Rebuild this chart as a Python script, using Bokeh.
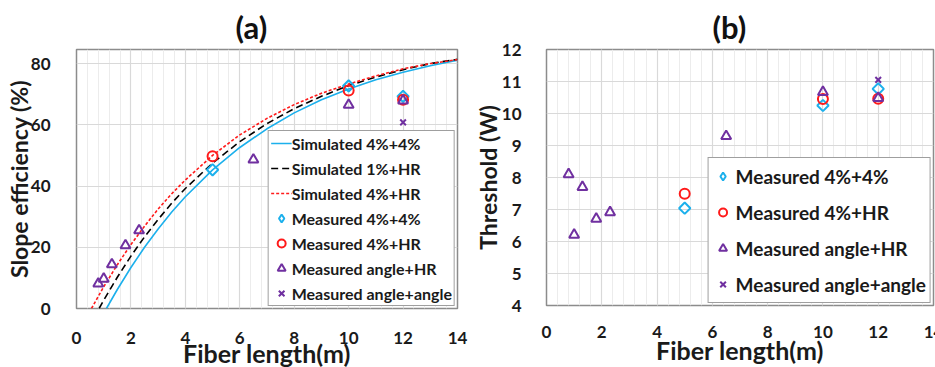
import numpy as np
from bokeh.plotting import figure
from bokeh.models import SingleIntervalTicker, Legend, LegendItem, Range1d
from bokeh.layouts import row
from bokeh.embed import file_html
from bokeh.resources import INLINE

FONT = "Lato"
CYAN = "#1CB0EC"
RED = "#FF1A1A"
PURPLE = "#7030A0"
TXT = "#1a1a1a"

# ---------------- Panel (a): slope efficiency ----------------
sim44_x = [1.10, 1.5, 2, 2.5, 3, 3.5, 4, 5, 6, 7, 8, 9, 10, 11, 12, 13, 14]
sim44_y = [0, 6.2, 13.4, 20.0, 26.0, 31.5, 36.5, 45.3, 52.6, 58.7, 63.9, 68.2, 71.7, 74.7, 77.2, 79.3, 81.1]
sim1hr_x = [0.83, 1, 1.5, 2, 2.5, 3, 3.5, 4, 5, 6, 7, 8, 9, 10, 11, 12, 13, 14]
sim1hr_y = [0, 2.7, 10.2, 17.1, 23.4, 29.1, 34.4, 39.2, 47.5, 54.5, 60.4, 65.3, 69.3, 72.8, 75.6, 78.0, 80.0, 81.4]
sim4hr_x = [0.55, 1, 1.5, 2, 2.5, 3, 3.5, 4, 5, 6, 7, 8, 9, 10, 11, 12, 13, 14]
sim4hr_y = [0, 7.1, 14.3, 20.9, 26.9, 32.5, 37.5, 42.0, 50.0, 56.7, 62.1, 66.6, 70.3, 73.3, 76.0, 78.3, 80.0, 81.3]

meas44_x = [5, 10, 12]
meas44_se = [45.3, 72.7, 69.3]
meas4hr_x = [5, 10, 12]
meas4hr_se = [49.7, 71.2, 68.2]
angHR_x = [0.8, 1.0, 1.3, 1.8, 2.3, 6.5, 10, 12]
angHR_se = [8.1, 9.7, 14.4, 20.6, 25.5, 48.6, 66.5, 67.9]
angang_x = [12]
angang_se = [60.8]

# ---------------- Panel (b): threshold ----------------
meas44_th = [7.04, 10.25, 10.77]
meas4hr_th = [7.49, 10.45, 10.46]
angHR_th = [8.10, 6.21, 7.70, 6.71, 6.91, 9.29, 10.67, 10.48]
angang_th = [11.05]

XLABEL = "Fiber length(m)"


def style(p, yint, title_offset, title_standoff):
    p.background_fill_color = "white"
    p.border_fill_color = "white"
    p.outline_line_color = "#8C8C8C"
    p.outline_line_width = 1.5
    p.xaxis.ticker = SingleIntervalTicker(interval=2, num_minor_ticks=5)
    p.yaxis.ticker = SingleIntervalTicker(interval=yint, num_minor_ticks=0)
    p.xgrid.ticker = p.xaxis.ticker
    p.ygrid.ticker = p.yaxis.ticker
    p.xgrid.grid_line_color = "#D9D9D9"
    p.ygrid.grid_line_color = "#D9D9D9"
    p.xgrid.grid_line_width = 1.2
    p.ygrid.grid_line_width = 1.2
    p.xgrid.minor_grid_line_color = "#ECECEC"
    p.xgrid.minor_grid_line_width = 1
    for ax in (p.xaxis[0], p.yaxis[0]):
        ax.axis_line_color = None
        ax.major_tick_line_color = None
        ax.minor_tick_line_color = None
        ax.major_label_text_font = FONT
        ax.major_label_text_font_style = "bold"
        ax.major_label_text_font_size = "17px"
        ax.major_label_text_color = TXT
        ax.axis_label_text_font = FONT
        ax.axis_label_text_font_style = "bold"
        ax.axis_label_text_color = TXT
        ax.axis_label_text_font_size = "23px"
    p.xaxis.axis_label = XLABEL
    p.xaxis.axis_label_text_font_size = "25px"
    p.title.align = "left"
    p.title.offset = title_offset
    p.title.standoff = title_standoff
    p.title.text_font = FONT
    p.title.text_font_style = "bold"
    p.title.text_font_size = "31px"
    p.title.text_color = "#111111"


def scatter_set(p, x, y_44, y_4hr, y_ahr, y_aa, xa, xhr, xaa):
    p.scatter(x, y_44, marker="square", angle=np.pi / 4, size=8,
              fill_color=None, line_color=CYAN, line_width=2)
    # legend-only diamond glyph, placed outside the visible range
    r1 = p.scatter([-10], [0], marker="diamond", size=12, fill_color=None,
                   line_color=CYAN, line_width=2)
    r2 = p.scatter(xhr, y_4hr, marker="circle", size=10,
                   fill_color=None, line_color=RED, line_width=2)
    r3 = p.scatter(xa, y_ahr, marker="triangle", size=10,
                   fill_color=None, line_color=PURPLE, line_width=2)
    r4 = p.scatter(xaa, y_aa, marker="x", size=8, line_color=PURPLE, line_width=2)
    return r1, r2, r3, r4


# ---- figure a
pa = figure(frame_width=381, frame_height=259, min_border_left=76, min_border_right=13,
            min_border_top=49, min_border_bottom=59, x_range=Range1d(0, 14),
            y_range=Range1d(0, 84.6), output_backend="svg", toolbar_location=None,
            title="(a)")
style(pa, 20, 159, 8)
pa.yaxis.axis_label = "Slope efficiency (%)"
pa.yaxis.major_label_standoff = 20
pa.yaxis.axis_label_standoff = -5
pa.xaxis.major_label_standoff = 17
pa.xaxis.axis_label_standoff = -9

l1 = pa.line(sim44_x, sim44_y, line_color=CYAN, line_width=1.6)
l2 = pa.line(sim1hr_x, sim1hr_y, line_color="black", line_width=1.6, line_dash="7 4")
l3 = pa.line(sim4hr_x, sim4hr_y, line_color=RED, line_width=1.6, line_dash="3 2")
m1, m2, m3, m4 = scatter_set(pa, meas44_x, meas44_se, meas4hr_se, angHR_se, angang_se,
                             angHR_x, meas4hr_x, angang_x)

leg_a = Legend(items=[
    LegendItem(label="Simulated 4%+4%", renderers=[l1]),
    LegendItem(label="Simulated 1%+HR", renderers=[l2]),
    LegendItem(label="Simulated 4%+HR", renderers=[l3]),
    LegendItem(label="Measured 4%+4%", renderers=[m1]),
    LegendItem(label="Measured 4%+HR", renderers=[m2]),
    LegendItem(label="Measured angle+HR", renderers=[m3]),
    LegendItem(label="Measured angle+angle", renderers=[m4]),
], location="bottom_right", margin=2, padding=2, spacing=5,
    label_height=20, glyph_height=20, glyph_width=21, label_standoff=0,
    label_text_font=FONT, label_text_font_style="bold", label_text_font_size="16px",
    label_text_color=TXT, border_line_color="#404040", border_line_width=1.5,
    background_fill_color="white", background_fill_alpha=1)
pa.add_layout(leg_a)

# ---- figure b
pb = figure(frame_width=387, frame_height=256, min_border_left=68, min_border_right=10,
            min_border_top=48, min_border_bottom=63, x_range=Range1d(0, 14),
            y_range=Range1d(4, 12), output_backend="svg", toolbar_location=None,
            title="(b)")
style(pb, 1, 166, 7)
pb.yaxis.axis_label = "Threshold (W)"
pb.yaxis.major_label_standoff = 19
pb.yaxis.axis_label_standoff = -3
pb.xaxis.major_label_standoff = 14
pb.xaxis.axis_label_standoff = -6

n1, n2, n3, n4 = scatter_set(pb, meas44_x, meas44_th, meas4hr_th, angHR_th, angang_th,
                             angHR_x, meas4hr_x, angang_x)

leg_b = Legend(items=[
    LegendItem(label="Measured 4%+4%", renderers=[n1]),
    LegendItem(label="Measured 4%+HR", renderers=[n2]),
    LegendItem(label="Measured angle+HR", renderers=[n3]),
    LegendItem(label="Measured angle+angle", renderers=[n4]),
], location="bottom_right", margin=2, padding=4, spacing=8,
    label_height=28, glyph_height=28, glyph_width=20, label_standoff=3,
    label_text_font=FONT, label_text_font_style="bold", label_text_font_size="19px",
    label_text_color=TXT, border_line_color="#404040", border_line_width=1.5,
    background_fill_color="white", background_fill_alpha=1)
pb.add_layout(leg_b)

layout = row(pa, pb)
open("out.html", "w").write(file_html(layout, INLINE))
